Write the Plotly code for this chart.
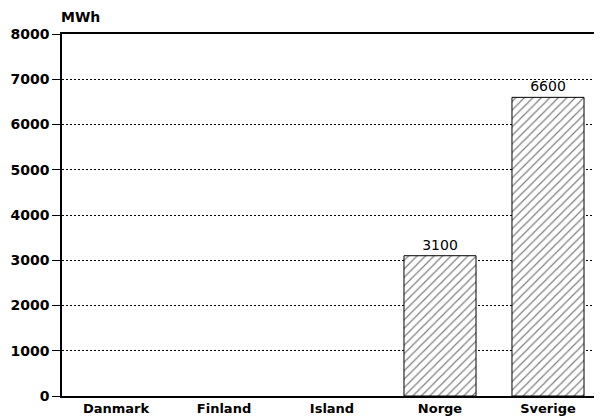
import plotly.graph_objects as go

countries = ["Danmark", "Finland", "Island", "Norge", "Sverige"]
mwh = [0, 0, 0, 3100, 6600]
y_ticks = [0, 1000, 2000, 3000, 4000, 5000, 6000, 7000, 8000]
unit_label = "MWh"

bar_text = [str(v) if v else "" for v in mwh]
edge_width = [1 if v else 0 for v in mwh]

fig = go.Figure(
    go.Bar(
        x=countries,
        y=mwh,
        width=0.667,
        text=bar_text,
        textposition="outside",
        textfont=dict(family="DejaVu Sans", size=14, color="black"),
        cliponaxis=False,
        marker=dict(
            color="white",
            line=dict(color="black", width=edge_width),
            pattern=dict(shape="/", fgcolor="black", bgcolor="white", size=6, solidity=0.2),
        ),
    )
)

# page body has an 8px margin, so the figure is sized to fill the rest of the window
fig.update_layout(
    width=594,
    height=409,
    margin=dict(l=54, r=0, t=26, b=21),
    paper_bgcolor="white",
    plot_bgcolor="white",
    showlegend=False,
    font=dict(family="DejaVu Sans", color="black"),
    annotations=[
        dict(
            text="<b>" + unit_label + "</b>",
            xref="paper", yref="paper", x=0, y=1,
            xanchor="left", yanchor="bottom", yshift=7, xshift=-3,
            showarrow=False,
            font=dict(family="DejaVu Sans", size=14, color="black"),
        )
    ],
)

fig.update_xaxes(
    range=[-0.5, 4.5],
    showline=True, linecolor="black", linewidth=1.5, mirror=True,
    ticks="", showgrid=False, automargin=False,
    tickfont=dict(family="DejaVu Sans", size=13, color="black", weight="bold"),
)

fig.update_yaxes(
    range=[0, 8000],
    tickvals=y_ticks,
    ticktext=[str(t) for t in y_ticks],
    showline=True, linecolor="black", linewidth=1.5,
    ticks="outside", ticklen=8, tickcolor="black", tickwidth=1,
    showgrid=True, gridcolor="black", gridwidth=1, griddash="2px,2px",
    zeroline=False, automargin=False,
    tickfont=dict(family="DejaVu Sans", size=14, color="black", weight="bold"),
)

fig.write_html("out.html")
